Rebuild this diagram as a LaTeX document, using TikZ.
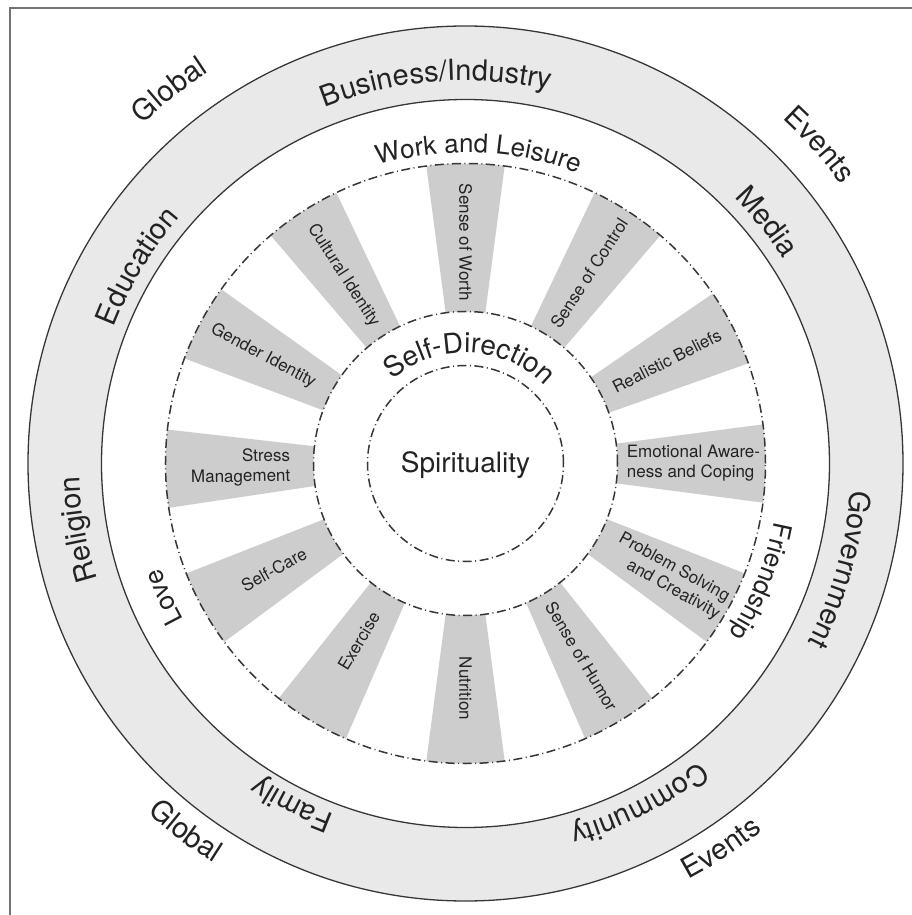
\documentclass[tikz,border=0pt]{standalone}
\usepackage{fontspec}
\setmainfont{TeX Gyre Heros}
\usepackage{xcolor}
\usepackage{tikz}
\usetikzlibrary{decorations.text}
\definecolor{ringGray}{RGB}{233,233,233}
\definecolor{spokeGray}{RGB}{205,205,205}
\definecolor{lineDark}{RGB}{55,55,55}
\definecolor{textDark}{RGB}{35,35,35}
\definecolor{frameGray}{RGB}{115,115,115}
\newcommand{\bigfont}{\fontsize{29}{29}\selectfont}
\newcommand{\midfont}{\fontsize{26}{26}\selectfont}
\newcommand{\corefont}{\fontsize{28}{28}\selectfont}
\newcommand{\spokefont}{\fontsize{17}{20}\selectfont}
% curved labels: centre angle, baseline radius, font, text
\newcommand{\cwlabel}[4]{%
  \path[decorate, decoration={text along path, text align=center, text color=textDark, text={|#3|#4}}]
    ({#1+70}:#2) arc[start angle={#1+70}, end angle={#1-70}, radius=#2];}
\newcommand{\ccwlabel}[4]{%
  \path[decorate, decoration={text along path, text align=center, text color=textDark, text={|#3|#4}}]
    ({#1-70}:#2) arc[start angle={#1-70}, end angle={#1+70}, radius=#2];}
\tikzset{
  ringline/.style={lineDark, line width=1.3pt},
  dashring/.style={lineDark, line width=1.5pt, dash pattern=on 9pt off 3.5pt on 1pt off 3.5pt},
  spokelabel/.style={text=textDark, font=\spokefont, inner sep=0pt, align=right}
}

\begin{document}
\begin{tikzpicture}[x=1pt,y=1pt]
    \useasboundingbox (-465.5,-451.5) rectangle (446.5,463.5);

    % frame
    \draw[frameGray, line width=1.5pt] (447,455.5) -- (-455.5,455.5) -- (-455.5,-452);

    % outer band
    \fill[ringGray] (0,0) circle[radius=437.5];
    \fill[white] (0,0) circle[radius=364];
    \draw[ringline] (0,0) circle[radius=437.5];
    \draw[ringline] (0,0) circle[radius=364];

    % spokes
    \foreach \ang in {90,57,27,0,-29,-59,-90,-121,-151,181,152,123}{
        \fill[spokeGray] ({\ang-7.5}:152) arc[start angle={\ang-7.5}, end angle={\ang+7.5}, radius=152]
            -- ({\ang+7.5}:300) arc[start angle={\ang+7.5}, end angle={\ang-7.5}, radius=300] -- cycle;
    }

    % dash-dot circles
    \draw[dashring] (0,0) circle[radius=300];
    \draw[dashring] (0,0) circle[radius=152];
    \draw[dashring] (0,0) circle[radius=98];

    % spoke labels
    \foreach \ang/\rot/\rad/\txt [count=\i] in {
        90/-90/221/Sense of Worth,
        57/57/227/Sense of Control,
        27/27/226/Realistic Beliefs,
        -29/-29/233/{Problem Solving\\and Creativity},
        -59/-59/225/Sense of Humor,
        -90/-90/225/Nutrition,
        -121/59/207/Exercise,
        -151/29/219/Self-Care,
        181/1/225/{Stress\\Management},
        152/-28/229/Gender Identity,
        123/-57/224/Cultural Identity}{
        \node[spokelabel, rotate=\rot] (spoke\i) at (\ang:\rad) {\txt};
    }
    \node[spokelabel, align=left] (awareness) at (0:228) {Emotional Aware-\\ness and Coping};

    % centre
    \node[font=\corefont, text=textDark, anchor=base, inner sep=0pt] (spirituality) at (0,-9.5) {Spirituality};
    \cwlabel{87.5}{111}{\corefont}{Self-Direction}

    % white ring
    \cwlabel{87.6}{311}{\midfont}{Work and Leisure}
    \cwlabel{-21.8}{314}{\midfont}{Friendship}
    \cwlabel{203.9}{322}{\midfont}{Love}

    % band
    \cwlabel{94.4}{383}{\bigfont}{Business/Industry}
    \cwlabel{38.7}{378}{\bigfont}{Media}
    \cwlabel{-15.8}{386}{\bigfont}{Government}
    \cwlabel{-63}{379}{\bigfont}{Community}
    \cwlabel{-117}{375}{\bigfont}{Family}
    \cwlabel{189.7}{386}{\bigfont}{Religion}
    \cwlabel{149}{377}{\bigfont}{Education}

    % outside
    \cwlabel{128.4}{468}{\bigfont}{Global}
    \cwlabel{42}{468}{\bigfont}{Events}
    \ccwlabel{232.7}{472}{\bigfont}{Global}
    \ccwlabel{-56.4}{472}{\bigfont}{Events}
\end{tikzpicture}
\end{document}
